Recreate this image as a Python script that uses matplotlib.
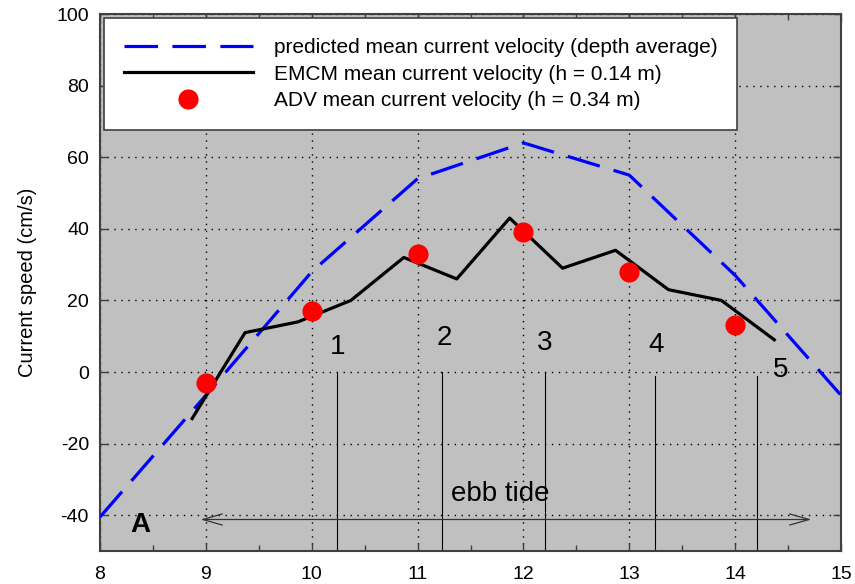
import matplotlib
matplotlib.use("Agg")
import matplotlib.pyplot as plt
from matplotlib.ticker import MultipleLocator

plt.rcParams["font.family"] = ["Liberation Sans", "DejaVu Sans"]
plt.rcParams["axes.unicode_minus"] = False

# predicted mean current velocity (depth average)
pred_x = [8, 9, 10, 11, 12, 13, 14, 15]
pred_y = [-40.5, -6.5, 28, 54, 64, 55, 27, -6.5]

# EMCM mean current velocity (h = 0.14 m)
emcm_x = [8.87, 9.37, 9.87, 10.37, 10.87, 11.37, 11.87, 12.37, 12.87, 13.37, 13.87, 14.37]
emcm_y = [-13, 11, 14, 20, 32, 26, 43, 29, 34, 23, 20, 9]

# ADV mean current velocity (h = 0.34 m)
adv_x = [9, 10, 11, 12, 13, 14]
adv_y = [-3, 17, 33, 39, 28, 13]

# numbered sampling times
mark_x = [10.24, 11.23, 12.2, 13.24, 14.21]
mark_top = [0, 0, 0, -1, -1]
mark_labels = ["1", "2", "3", "4", "5"]
label_x = [10.24, 11.25, 12.2, 13.25, 14.43]
label_y = [7, 9.5, 8, 7.5, 0.6]

fig = plt.figure(figsize=(8.55, 5.84), dpi=100)
ax = fig.add_axes([0.117, 0.0565, 0.8666, 0.9195])
ax.set_facecolor("#c0c0c0")

ax.plot(pred_x, pred_y, color="#0000ff", lw=2.3, dashes=(10.5, 4.5),
        label="predicted mean current velocity (depth average)", zorder=3)
ax.plot(emcm_x, emcm_y, color="black", lw=2.3,
        label="EMCM mean current velocity (h = 0.14 m)", zorder=4)
ax.plot(adv_x, adv_y, "o", color="#ff0000", ms=14.5, mec="none",
        label="ADV mean current velocity (h = 0.34 m)", zorder=5)

for x, top in zip(mark_x, mark_top):
    ax.plot([x, x], [top, -50], color="black", lw=0.8, zorder=2)
for x, y, s in zip(label_x, label_y, mark_labels):
    ax.text(x, y, s, fontsize=20, ha="center", va="center", zorder=6)

ax.annotate("", xy=(8.95, -41.2), xytext=(14.72, -41.2),
            arrowprops=dict(arrowstyle="<->,head_length=0.7,head_width=0.2",
                            lw=0.9, color="#333333", mutation_scale=20,
                            shrinkA=0, shrinkB=0), zorder=2)
ax.text(11.78, -34, "ebb tide", fontsize=20, ha="center", va="center")
ax.text(8.38, -42.8, "A", fontsize=20, fontweight="bold", ha="center", va="center")

ax.set_xlim(8, 15)
ax.set_ylim(-50, 100)
ax.xaxis.set_major_locator(MultipleLocator(1))
ax.xaxis.set_minor_locator(MultipleLocator(0.5))
ax.yaxis.set_major_locator(MultipleLocator(20))
ax.tick_params(which="both", direction="in", top=True, right=True,
               colors="#404040", labelcolor="black", labelsize=14)
ax.tick_params(which="major", length=6, width=1)
ax.tick_params(which="minor", length=4, width=1)
ax.tick_params(axis="x", pad=11)
ax.tick_params(axis="y", pad=8)
ax.grid(True, which="major", color="black", linestyle=(0, (1, 4)), lw=1)
for sp in ax.spines.values():
    sp.set_color("#404040")
    sp.set_linewidth(1.5)

ax.set_ylabel("Current speed (cm/s)", fontsize=14.5, labelpad=14)

leg = ax.legend(loc="upper left", bbox_to_anchor=(0.005, 0.992), fontsize=15,
                frameon=True, fancybox=False, framealpha=1, edgecolor="#404040",
                handlelength=6.2, handletextpad=1.0, borderpad=0.95,
                labelspacing=0.36, borderaxespad=0)
leg.get_frame().set_linewidth(1.2)
leg.set_zorder(10)

fig.savefig("out.png", dpi=100)
